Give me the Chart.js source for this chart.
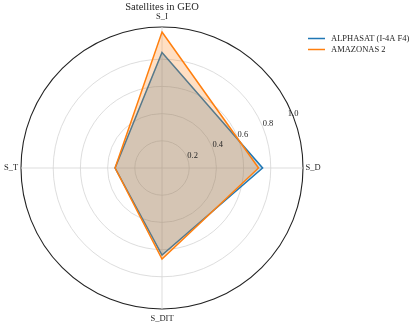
<!DOCTYPE html>
<html>
<head>
<meta charset="utf-8">
<title>Satellites in GEO</title>
<script src="https://cdn.jsdelivr.net/npm/chart.js@4/dist/chart.umd.min.js"></script>
<style>
  html, body { margin: 0; padding: 0; background: #fff; }
  #wrap { position: relative; width: 415px; height: 326px; }
</style>
</head>
<body>
<div id="wrap">
  <canvas id="radar" width="415" height="326"></canvas>
</div>
<script>
// ---------- Data ----------
const axisLabels = ['S_I', 'S_D', 'S_DIT', 'S_T'];
const alphasat = [0.85, 0.74, 0.64, 0.345];
const amazonas = [1.0, 0.71, 0.67, 0.345];
const seriesNames = ['ALPHASAT (I-4A F4)', 'AMAZONAS 2'];
const tickValues = [0.2, 0.4, 0.6, 0.8, 1.0];
const chartTitle = 'Satellites in GEO';

const BLUE = '#1f77b4';
const ORANGE = '#ff7f0e';
const SERIF = "'Liberation Serif', 'DejaVu Serif', serif";
const TEXT = '#262626';

// ---------- Labels, ticks, title, legend ----------
const annotations = {
  id: 'annotations',
  afterDraw(chart) {
    const ctx = chart.ctx;
    const r = chart.scales.r;
    ctx.save();
    ctx.fillStyle = TEXT;
    ctx.textBaseline = 'middle';

    // title
    ctx.font = `10.5px ${SERIF}`;
    ctx.textAlign = 'center';
    ctx.fillText(chartTitle, r.xCenter, 7.5);

    // axis names around the circle
    ctx.font = `8.5px ${SERIF}`;
    axisLabels.forEach((lbl, i) => {
      const p = r.getPointPosition(i, r.drawingArea + 10);
      ctx.fillText(lbl, p.x, p.y);
    });

    // radial tick labels at 22.5 degrees
    const a = 22.5 * Math.PI / 180;
    tickValues.forEach(v => {
      const d = r.getDistanceFromCenterForValue(v) + 6;
      ctx.fillText(v.toFixed(1), r.xCenter + d * Math.cos(a), r.yCenter - d * Math.sin(a));
    });

    // legend
    const colors = [BLUE, ORANGE];
    ctx.textAlign = 'left';
    seriesNames.forEach((name, i) => {
      const y = 38.5 + i * 11;
      ctx.strokeStyle = colors[i];
      ctx.lineWidth = 1.5;
      ctx.beginPath();
      ctx.moveTo(308, y);
      ctx.lineTo(325, y);
      ctx.stroke();
      ctx.fillStyle = TEXT;
      ctx.fillText(name, 331, y);
    });
    ctx.restore();
  }
};

// ---------- Radar ----------
new Chart(document.getElementById('radar'), {
  type: 'radar',
  data: {
    labels: axisLabels,
    datasets: [
      {
        label: seriesNames[0],
        data: alphasat,
        borderColor: BLUE,
        backgroundColor: 'rgba(31, 119, 180, 0.25)',
        borderWidth: 1.5,
        pointRadius: 0,
        fill: true,
        order: 1
      },
      {
        label: seriesNames[1],
        data: amazonas,
        borderColor: ORANGE,
        backgroundColor: 'rgba(255, 127, 14, 0.25)',
        borderWidth: 1.5,
        pointRadius: 0,
        fill: true,
        order: 0
      }
    ]
  },
  options: {
    responsive: false,
    animation: false,
    layout: { padding: { left: 21, top: 27, right: 112, bottom: 17 } },
    plugins: {
      legend: { display: false },
      tooltip: { enabled: false }
    },
    elements: { line: { tension: 0 } },
    scales: {
      r: {
        min: 0,
        max: 1.037,
        ticks: { display: false, stepSize: 0.2 },
        pointLabels: { display: false },
        grid: {
          circular: true,
          color: (c) => c.tick && c.tick.value > 1.01 ? '#222' : '#d4d4d4',
          lineWidth: (c) => c.tick && c.tick.value > 1.01 ? 1.1 : 0.8
        },
        angleLines: { color: '#d4d4d4', lineWidth: 0.8 }
      }
    }
  },
  plugins: [annotations]
});
</script>
</body>
</html>
